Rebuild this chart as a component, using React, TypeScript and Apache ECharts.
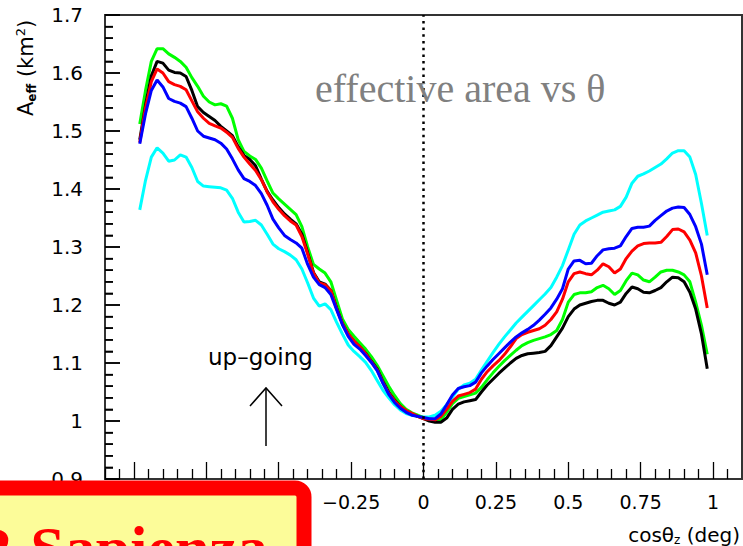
import React, { useEffect, useRef } from "react";
import * as echarts from "echarts";

// cos(theta_z) sampling points
const cosTheta = [
  -0.98, -0.96, -0.94, -0.92, -0.9, -0.88, -0.86, -0.84, -0.82, -0.8,
  -0.78, -0.76, -0.74, -0.72, -0.7, -0.68, -0.66, -0.64, -0.62, -0.6,
  -0.58, -0.56, -0.54, -0.52, -0.5, -0.48, -0.46, -0.44, -0.42, -0.4,
  -0.38, -0.36, -0.34, -0.32, -0.3, -0.28, -0.26, -0.24, -0.22, -0.2,
  -0.18, -0.16, -0.14, -0.12, -0.1, -0.08, -0.06, -0.04, -0.02, 0,
  0.02, 0.04, 0.06, 0.08, 0.1, 0.12, 0.14, 0.16, 0.18, 0.2,
  0.22, 0.24, 0.26, 0.28, 0.3, 0.32, 0.34, 0.36, 0.38, 0.4,
  0.42, 0.44, 0.46, 0.48, 0.5, 0.52, 0.54, 0.56, 0.58, 0.6,
  0.62, 0.64, 0.66, 0.68, 0.7, 0.72, 0.74, 0.76, 0.78, 0.8,
  0.82, 0.84, 0.86, 0.88, 0.9, 0.92, 0.94, 0.96, 0.98,
];

const cyanA = [
  1.364, 1.415, 1.455, 1.471, 1.462, 1.448, 1.45, 1.459, 1.455, 1.437,
  1.413, 1.405, 1.404, 1.403, 1.402, 1.398, 1.384, 1.36, 1.343, 1.344,
  1.346, 1.338, 1.322, 1.305, 1.297, 1.292, 1.286, 1.278, 1.262, 1.238,
  1.212, 1.198, 1.202, 1.192, 1.17, 1.15, 1.131, 1.12, 1.111, 1.101,
  1.087, 1.07, 1.053, 1.04, 1.028, 1.019, 1.013, 1.01, 1.008, 1.007,
  1.007, 1.01, 1.017, 1.028, 1.041, 1.055, 1.062, 1.065, 1.072, 1.088,
  1.103, 1.118, 1.132, 1.145, 1.157, 1.169, 1.179, 1.189, 1.199, 1.209,
  1.219, 1.23, 1.248, 1.268, 1.295, 1.322, 1.338, 1.345, 1.35, 1.355,
  1.36, 1.362, 1.364, 1.37, 1.386, 1.41, 1.422, 1.426, 1.431, 1.437,
  1.443, 1.452, 1.462, 1.466, 1.466, 1.455, 1.425, 1.375, 1.32,
];

const greenA = [
  1.512, 1.57, 1.62, 1.642, 1.642, 1.633, 1.627, 1.62, 1.61, 1.592,
  1.577, 1.56, 1.55, 1.545, 1.547, 1.543, 1.522, 1.485, 1.465, 1.457,
  1.451, 1.436, 1.414, 1.393, 1.383, 1.374, 1.365, 1.356, 1.335, 1.3,
  1.27, 1.262, 1.255, 1.24, 1.208, 1.176, 1.158, 1.146, 1.135, 1.124,
  1.111, 1.096, 1.078, 1.06, 1.044, 1.03, 1.02, 1.014, 1.01, 1.006,
  1.002, 1.0, 1.002, 1.015, 1.03, 1.039, 1.042, 1.045, 1.048, 1.058,
  1.071, 1.083, 1.094, 1.104, 1.113, 1.122, 1.13, 1.135, 1.139, 1.142,
  1.145, 1.149, 1.156, 1.175, 1.205, 1.218, 1.221, 1.221, 1.223, 1.23,
  1.234, 1.228, 1.218, 1.225, 1.242, 1.255, 1.252, 1.243, 1.24, 1.248,
  1.257, 1.26, 1.26, 1.257, 1.252, 1.24, 1.205, 1.165, 1.115,
];

const blackA = [
  1.485, 1.545, 1.595, 1.62, 1.617, 1.605, 1.601, 1.6, 1.594, 1.57,
  1.542, 1.532, 1.525, 1.518, 1.508, 1.5, 1.492, 1.473, 1.458, 1.451,
  1.44, 1.417, 1.396, 1.381, 1.368, 1.357, 1.348, 1.34, 1.322, 1.29,
  1.256, 1.24, 1.236, 1.225, 1.195, 1.168, 1.15, 1.138, 1.128, 1.117,
  1.103, 1.09, 1.068, 1.05, 1.036, 1.025, 1.017, 1.012, 1.008, 1.004,
  1.0, 0.998, 0.998, 1.005, 1.02, 1.029, 1.033, 1.035, 1.037, 1.05,
  1.062, 1.072, 1.082, 1.091, 1.1, 1.108, 1.113, 1.116, 1.117, 1.118,
  1.12, 1.13, 1.145, 1.16, 1.18, 1.193, 1.2, 1.203, 1.206, 1.208,
  1.208, 1.203, 1.2, 1.205, 1.22, 1.231, 1.228, 1.222, 1.221, 1.225,
  1.23, 1.24, 1.248, 1.247, 1.24, 1.222, 1.193, 1.15, 1.09,
];

const redA = [
  1.48, 1.54, 1.585, 1.607, 1.6, 1.585, 1.58, 1.577, 1.571, 1.552,
  1.533, 1.522, 1.513, 1.509, 1.505, 1.498, 1.489, 1.47, 1.455, 1.443,
  1.432, 1.416, 1.395, 1.378, 1.365, 1.354, 1.345, 1.338, 1.318, 1.288,
  1.255, 1.238, 1.235, 1.225, 1.193, 1.168, 1.15, 1.138, 1.128, 1.116,
  1.102, 1.088, 1.066, 1.048, 1.035, 1.025, 1.018, 1.013, 1.008, 1.004,
  1.003, 1.002, 1.008, 1.02, 1.034, 1.043, 1.046, 1.049, 1.055, 1.072,
  1.085, 1.095, 1.104, 1.115, 1.128, 1.142, 1.149, 1.153, 1.156, 1.159,
  1.165, 1.175, 1.188, 1.21, 1.24, 1.254, 1.257, 1.254, 1.252, 1.26,
  1.271, 1.266, 1.255, 1.262, 1.28, 1.293, 1.302, 1.306, 1.307, 1.307,
  1.308, 1.318, 1.33, 1.331, 1.326, 1.312, 1.29, 1.25, 1.195,
];

const blueA = [
  1.478, 1.53, 1.57, 1.588, 1.576, 1.556, 1.551, 1.548, 1.542, 1.522,
  1.5, 1.491, 1.488, 1.485, 1.479, 1.469, 1.452, 1.433, 1.418, 1.413,
  1.406, 1.392, 1.372, 1.348, 1.333, 1.32, 1.313, 1.307, 1.298, 1.27,
  1.248, 1.235, 1.23, 1.218, 1.192, 1.166, 1.146, 1.132, 1.124, 1.113,
  1.101, 1.087, 1.065, 1.046, 1.032, 1.022, 1.015, 1.01, 1.008, 1.006,
  1.004, 1.004, 1.012, 1.028, 1.045, 1.056, 1.059, 1.061, 1.067, 1.083,
  1.095, 1.106, 1.116, 1.126, 1.136, 1.145, 1.152, 1.158, 1.165, 1.174,
  1.184, 1.195, 1.21, 1.228, 1.262, 1.276, 1.277, 1.271, 1.272, 1.285,
  1.295, 1.297, 1.298, 1.302, 1.318, 1.332, 1.334, 1.334, 1.336, 1.346,
  1.354, 1.362, 1.367, 1.369, 1.368, 1.356, 1.335, 1.305, 1.252,
];

const seriesList = [
  { name: "cyan", color: "#00FFFF", values: cyanA },
  { name: "green", color: "#00FF00", values: greenA },
  { name: "black", color: "#000000", values: blackA },
  { name: "red", color: "#FF0000", values: redA },
  { name: "blue", color: "#0000FF", values: blueA },
];

const xMajorTicks = [-1, -0.75, -0.5, -0.25, 0, 0.25, 0.5, 0.75, 1];
const xMinorTicks = [
  -1.1, -1.05, -0.95, -0.9, -0.85, -0.8, -0.7, -0.65, -0.6, -0.55, -0.45, -0.4,
  -0.35, -0.3, -0.2, -0.15, -0.1, -0.05, 0.05, 0.1, 0.15, 0.2, 0.3, 0.35, 0.4,
  0.45, 0.55, 0.6, 0.65, 0.7, 0.8, 0.85, 0.9, 0.95, 1.05,
];
const yMajorTicks = [0.9, 1.0, 1.1, 1.2, 1.3, 1.4, 1.5, 1.6, 1.7];
const yMinorTicks = [
  0.92, 0.94, 0.96, 0.98, 1.02, 1.04, 1.06, 1.08, 1.12, 1.14, 1.16, 1.18,
  1.22, 1.24, 1.26, 1.28, 1.32, 1.34, 1.36, 1.38, 1.42, 1.44, 1.46, 1.48,
  1.52, 1.54, 1.56, 1.58, 1.62, 1.64, 1.66, 1.68,
];

const SANS = "DejaVu Sans";
const X_MIN = -1.1;
const X_MAX = 1.1;
const Y_MIN = 0.9;
const Y_MAX = 1.7;

function fmtX(v: number) {
  const r = Math.round(v * 100) / 100;
  const s = String(Math.abs(r));
  return r < 0 ? "\u2212" + s : s;
}

export default function App() {
  const ref = useRef<HTMLDivElement>(null);

  useEffect(() => {
    if (!ref.current) return;
    const chart = echarts.init(ref.current, undefined, { renderer: "svg" });

    const series: any[] = seriesList.map((s, idx) => ({
      name: s.name,
      type: "line",
      xAxisIndex: 0,
      yAxisIndex: 0,
      showSymbol: false,
      symbol: "none",
      smooth: false,
      lineStyle: { color: s.color, width: 3 },
      itemStyle: { color: s.color },
      data: cosTheta.map((x, i) => [x, s.values[i]]),
      z: 3 + idx,
      ...(idx === 0
        ? {
            markLine: {
              silent: true,
              symbol: "none",
              label: { show: false },
              lineStyle: { color: "#000", width: 2.5, type: [2.5, 4.2] },
              data: [{ xAxis: 0 }],
              z: 10,
            },
          }
        : {}),
    }));

    const gridBox = { left: 105, top: 15, width: 637, height: 464, containLabel: false, outerBoundsMode: "none" };

    const baseGraphics: any[] = [
      {
        type: "text",
        x: 26,
        y: 116,
        rotation: Math.PI / 2,
        z: 20,
        style: {
          text: "{n|A}{s|eff}{n| (km}{p|2}{n|)}",
          align: "left",
          verticalAlign: "middle",
          fill: "#000",
          rich: {
            n: { fontFamily: SANS, fontSize: 21, fill: "#000", verticalAlign: "middle" },
            s: { fontFamily: SANS, fontSize: 12, fontWeight: "bold", fill: "#000", verticalAlign: "bottom", padding: [9, 0, 0, 0] },
            p: { fontFamily: SANS, fontSize: 13, fill: "#000", verticalAlign: "top", padding: [0, 0, 11, 0] },
          },
        },
      },
      {
        type: "text",
        x: 740,
        y: 535,
        z: 20,
        style: {
          text: "{n|cos\u03b8}{s|z}{n| (deg)}",
          align: "right",
          verticalAlign: "middle",
          fill: "#000",
          rich: {
            n: { fontFamily: SANS, fontSize: 20, fill: "#000", verticalAlign: "middle" },
            s: { fontFamily: SANS, fontSize: 12, fill: "#000", verticalAlign: "bottom", padding: [10, 0, 0, 0] },
          },
        },
      },
      {
        type: "text",
        x: 315,
        y: 88,
        z: 20,
        style: {
          text: "effective area vs \u03b8",
          fontFamily: "Liberation Serif",
          fontSize: 40,
          fill: "#808080",
          align: "left",
          verticalAlign: "middle",
        },
      },
      {
        type: "text",
        x: 208,
        y: 357,
        z: 20,
        style: {
          text: "up\u2013going",
          fontFamily: SANS,
          fontSize: 23,
          fill: "#000",
          align: "left",
          verticalAlign: "middle",
        },
      },
      {
        type: "line",
        z: 20,
        shape: { x1: 266, y1: 446, x2: 266, y2: 388 },
        style: { stroke: "#000", lineWidth: 1.5 },
      },
      {
        type: "polyline",
        z: 20,
        shape: { points: [[250, 406], [266, 388], [282, 406]] },
        style: { stroke: "#000", lineWidth: 1.5, fill: "none" },
      },
      {
        type: "rect",
        z: 50,
        shape: { x: -20, y: 488, width: 324, height: 90, r: 9 },
        style: { fill: "#FCFC99", stroke: "#FF0000", lineWidth: 15 },
      },
      {
        type: "text",
        x: -30,
        y: 548,
        z: 51,
        style: {
          text: "R Sapienza",
          fontFamily: "Liberation Serif",
          fontWeight: "bold",
          fontSize: 62,
          fill: "#FF0000",
          align: "left",
          verticalAlign: "middle",
        },
      },
    ];

    const option: any = {
      animation: false,
      grid: [
        { ...gridBox, show: true, borderColor: "#333", borderWidth: 2 },
        { ...gridBox, show: false },
      ],
      xAxis: [
        {
          gridIndex: 0,
          type: "value",
          min: X_MIN,
          max: X_MAX,
          position: "bottom",
          axisLine: { show: false, onZero: false },
          splitLine: { show: false },
          axisTick: { show: true, inside: true, length: 17, customValues: xMajorTicks, lineStyle: { color: "#000", width: 1.3 } },
          axisLabel: {
            customValues: xMajorTicks,
            formatter: (v: number) => fmtX(v),
            fontFamily: SANS,
            fontSize: 19,
            color: "#000",
            margin: 13,
          },
        },
        {
          gridIndex: 1,
          type: "value",
          min: X_MIN,
          max: X_MAX,
          position: "bottom",
          axisLine: { show: false, onZero: false },
          splitLine: { show: false },
          axisTick: { show: true, inside: true, length: 10, customValues: xMinorTicks, lineStyle: { color: "#000", width: 1.3 } },
          axisLabel: { show: false },
        },
      ],
      yAxis: [
        {
          gridIndex: 0,
          type: "value",
          min: Y_MIN,
          max: Y_MAX,
          position: "left",
          axisLine: { show: false, onZero: false },
          splitLine: { show: false },
          axisTick: { show: true, inside: true, length: 15, customValues: yMajorTicks, lineStyle: { color: "#000", width: 1.5 } },
          axisLabel: {
            customValues: yMajorTicks,
            formatter: (v: number) => String(Math.round(v * 10) / 10),
            fontFamily: SANS,
            fontSize: 20,
            color: "#000",
            margin: 22,
          },
        },
        {
          gridIndex: 1,
          type: "value",
          min: Y_MIN,
          max: Y_MAX,
          position: "left",
          axisLine: { show: false, onZero: false },
          splitLine: { show: false },
          axisTick: { show: true, inside: true, length: 8, customValues: yMinorTicks, lineStyle: { color: "#000", width: 1.5 } },
          axisLabel: { show: false },
        },
      ],
      series,
      graphic: baseGraphics,
    };

    chart.setOption(option);

    // y-axis ticks also placed as drawn lines through the chart's own scales
    const toNum = (r: any) => (Array.isArray(r) ? Number(r[0]) : Number(r));
    let x0 = toNum(chart.convertToPixel({ xAxisIndex: 0 }, X_MIN));
    if (!isFinite(x0)) x0 = 105;
    const makeTick = (v: number, len: number) => {
      let py = toNum(chart.convertToPixel({ yAxisIndex: 0 }, v));
      if (!isFinite(py)) py = 15 + ((Y_MAX - v) / (Y_MAX - Y_MIN)) * 464;
      return {
        type: "line",
        z: 100,
        silent: true,
        shape: { x1: x0, y1: py, x2: x0 + len, y2: py },
        style: { stroke: "#000", lineWidth: 1.5 },
      };
    };
    const tickGraphics = [
      ...yMajorTicks.map((v) => makeTick(v, 15)),
      ...yMinorTicks.map((v) => makeTick(v, 8)),
    ];
    chart.setOption({ graphic: { elements: [...baseGraphics, ...tickGraphics] } });

    return () => chart.dispose();
  }, []);

  return (
    <div
      ref={ref}
      style={{ position: "fixed", left: 0, top: 0, width: 743, height: 546, background: "#fff" }}
    />
  );
}
